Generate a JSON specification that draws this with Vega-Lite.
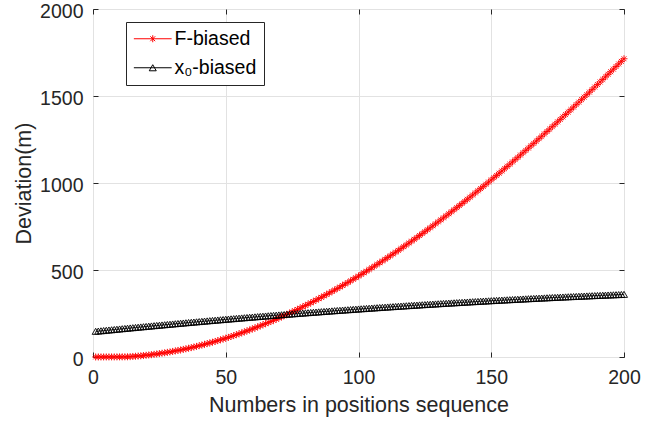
{
  "$schema": "https://vega.github.io/schema/vega-lite/v6.json",
  "autosize": "none",
  "width": 531,
  "height": 348,
  "padding": {"left": 93, "top": 9, "right": 41, "bottom": 64},
  "background": "white",
  "config": {
    "font": "Liberation Sans",
    "view": {"stroke": "#262626", "strokeWidth": 1}
  },
  "data": {
    "values": [
      {"n":1,"s":"F-biased","d":0.1},{"n":2,"s":"F-biased","d":0.2},{"n":3,"s":"F-biased","d":0.2},{"n":4,"s":"F-biased","d":0.3},{"n":5,"s":"F-biased","d":0.4},
      {"n":6,"s":"F-biased","d":0.5},{"n":7,"s":"F-biased","d":0.6},{"n":8,"s":"F-biased","d":0.6},{"n":9,"s":"F-biased","d":0.7},{"n":10,"s":"F-biased","d":0.8},
      {"n":11,"s":"F-biased","d":0.9},{"n":12,"s":"F-biased","d":1.0},{"n":13,"s":"F-biased","d":1.2},{"n":14,"s":"F-biased","d":2.1},{"n":15,"s":"F-biased","d":3.1},
      {"n":16,"s":"F-biased","d":4.2},{"n":17,"s":"F-biased","d":5.5},{"n":18,"s":"F-biased","d":6.9},{"n":19,"s":"F-biased","d":8.3},{"n":20,"s":"F-biased","d":9.9},
      {"n":21,"s":"F-biased","d":11.6},{"n":22,"s":"F-biased","d":13.4},{"n":23,"s":"F-biased","d":15.4},{"n":24,"s":"F-biased","d":17.4},{"n":25,"s":"F-biased","d":19.6},
      {"n":26,"s":"F-biased","d":21.8},{"n":27,"s":"F-biased","d":24.2},{"n":28,"s":"F-biased","d":26.7},{"n":29,"s":"F-biased","d":29.3},{"n":30,"s":"F-biased","d":32.0},
      {"n":31,"s":"F-biased","d":34.8},{"n":32,"s":"F-biased","d":37.7},{"n":33,"s":"F-biased","d":40.7},{"n":34,"s":"F-biased","d":43.8},{"n":35,"s":"F-biased","d":47.0},
      {"n":36,"s":"F-biased","d":50.4},{"n":37,"s":"F-biased","d":53.8},{"n":38,"s":"F-biased","d":57.4},{"n":39,"s":"F-biased","d":61.0},{"n":40,"s":"F-biased","d":64.8},
      {"n":41,"s":"F-biased","d":68.7},{"n":42,"s":"F-biased","d":72.6},{"n":43,"s":"F-biased","d":76.7},{"n":44,"s":"F-biased","d":80.9},{"n":45,"s":"F-biased","d":85.1},
      {"n":46,"s":"F-biased","d":89.5},{"n":47,"s":"F-biased","d":94.0},{"n":48,"s":"F-biased","d":98.6},{"n":49,"s":"F-biased","d":103.2},{"n":50,"s":"F-biased","d":108.0},
      {"n":51,"s":"F-biased","d":112.9},{"n":52,"s":"F-biased","d":117.9},{"n":53,"s":"F-biased","d":122.9},{"n":54,"s":"F-biased","d":128.1},{"n":55,"s":"F-biased","d":133.4},
      {"n":56,"s":"F-biased","d":138.7},{"n":57,"s":"F-biased","d":144.2},{"n":58,"s":"F-biased","d":149.8},{"n":59,"s":"F-biased","d":155.4},{"n":60,"s":"F-biased","d":161.2},
      {"n":61,"s":"F-biased","d":167.0},{"n":62,"s":"F-biased","d":173.0},{"n":63,"s":"F-biased","d":179.0},{"n":64,"s":"F-biased","d":185.2},{"n":65,"s":"F-biased","d":191.4},
      {"n":66,"s":"F-biased","d":197.7},{"n":67,"s":"F-biased","d":204.1},{"n":68,"s":"F-biased","d":210.6},{"n":69,"s":"F-biased","d":217.2},{"n":70,"s":"F-biased","d":223.9},
      {"n":71,"s":"F-biased","d":230.7},{"n":72,"s":"F-biased","d":237.5},{"n":73,"s":"F-biased","d":244.5},{"n":74,"s":"F-biased","d":251.6},{"n":75,"s":"F-biased","d":258.7},
      {"n":76,"s":"F-biased","d":265.9},{"n":77,"s":"F-biased","d":273.2},{"n":78,"s":"F-biased","d":280.6},{"n":79,"s":"F-biased","d":288.1},{"n":80,"s":"F-biased","d":295.7},
      {"n":81,"s":"F-biased","d":303.4},{"n":82,"s":"F-biased","d":311.1},{"n":83,"s":"F-biased","d":319.0},{"n":84,"s":"F-biased","d":326.9},{"n":85,"s":"F-biased","d":334.9},
      {"n":86,"s":"F-biased","d":343.0},{"n":87,"s":"F-biased","d":351.2},{"n":88,"s":"F-biased","d":359.5},{"n":89,"s":"F-biased","d":367.8},{"n":90,"s":"F-biased","d":376.2},
      {"n":91,"s":"F-biased","d":384.7},{"n":92,"s":"F-biased","d":393.3},{"n":93,"s":"F-biased","d":402.0},{"n":94,"s":"F-biased","d":410.8},{"n":95,"s":"F-biased","d":419.6},
      {"n":96,"s":"F-biased","d":428.5},{"n":97,"s":"F-biased","d":437.5},{"n":98,"s":"F-biased","d":446.6},{"n":99,"s":"F-biased","d":455.8},{"n":100,"s":"F-biased","d":465.0},
      {"n":101,"s":"F-biased","d":474.3},{"n":102,"s":"F-biased","d":483.7},{"n":103,"s":"F-biased","d":493.2},{"n":104,"s":"F-biased","d":502.7},{"n":105,"s":"F-biased","d":512.4},
      {"n":106,"s":"F-biased","d":522.1},{"n":107,"s":"F-biased","d":531.8},{"n":108,"s":"F-biased","d":541.7},{"n":109,"s":"F-biased","d":551.6},{"n":110,"s":"F-biased","d":561.6},
      {"n":111,"s":"F-biased","d":571.7},{"n":112,"s":"F-biased","d":581.9},{"n":113,"s":"F-biased","d":592.1},{"n":114,"s":"F-biased","d":602.4},{"n":115,"s":"F-biased","d":612.7},
      {"n":116,"s":"F-biased","d":623.2},{"n":117,"s":"F-biased","d":633.7},{"n":118,"s":"F-biased","d":644.3},{"n":119,"s":"F-biased","d":654.9},{"n":120,"s":"F-biased","d":665.7},
      {"n":121,"s":"F-biased","d":676.5},{"n":122,"s":"F-biased","d":687.3},{"n":123,"s":"F-biased","d":698.3},{"n":124,"s":"F-biased","d":709.2},{"n":125,"s":"F-biased","d":720.3},
      {"n":126,"s":"F-biased","d":731.5},{"n":127,"s":"F-biased","d":742.7},{"n":128,"s":"F-biased","d":753.9},{"n":129,"s":"F-biased","d":765.3},{"n":130,"s":"F-biased","d":776.7},
      {"n":131,"s":"F-biased","d":788.2},{"n":132,"s":"F-biased","d":799.7},{"n":133,"s":"F-biased","d":811.3},{"n":134,"s":"F-biased","d":823.0},{"n":135,"s":"F-biased","d":834.7},
      {"n":136,"s":"F-biased","d":846.5},{"n":137,"s":"F-biased","d":858.3},{"n":138,"s":"F-biased","d":870.2},{"n":139,"s":"F-biased","d":882.2},{"n":140,"s":"F-biased","d":894.3},
      {"n":141,"s":"F-biased","d":906.4},{"n":142,"s":"F-biased","d":918.5},{"n":143,"s":"F-biased","d":930.8},{"n":144,"s":"F-biased","d":943.1},{"n":145,"s":"F-biased","d":955.4},
      {"n":146,"s":"F-biased","d":967.8},{"n":147,"s":"F-biased","d":980.3},{"n":148,"s":"F-biased","d":992.8},{"n":149,"s":"F-biased","d":1005.4},{"n":150,"s":"F-biased","d":1018.0},
      {"n":151,"s":"F-biased","d":1030.7},{"n":152,"s":"F-biased","d":1043.5},{"n":153,"s":"F-biased","d":1056.3},{"n":154,"s":"F-biased","d":1069.1},{"n":155,"s":"F-biased","d":1082.0},
      {"n":156,"s":"F-biased","d":1095.0},{"n":157,"s":"F-biased","d":1108.0},{"n":158,"s":"F-biased","d":1121.1},{"n":159,"s":"F-biased","d":1134.3},{"n":160,"s":"F-biased","d":1147.5},
      {"n":161,"s":"F-biased","d":1160.7},{"n":162,"s":"F-biased","d":1174.0},{"n":163,"s":"F-biased","d":1187.4},{"n":164,"s":"F-biased","d":1200.7},{"n":165,"s":"F-biased","d":1214.2},
      {"n":166,"s":"F-biased","d":1227.7},{"n":167,"s":"F-biased","d":1241.3},{"n":168,"s":"F-biased","d":1254.9},{"n":169,"s":"F-biased","d":1268.5},{"n":170,"s":"F-biased","d":1282.2},
      {"n":171,"s":"F-biased","d":1296.0},{"n":172,"s":"F-biased","d":1309.8},{"n":173,"s":"F-biased","d":1323.6},{"n":174,"s":"F-biased","d":1337.5},{"n":175,"s":"F-biased","d":1351.4},
      {"n":176,"s":"F-biased","d":1365.4},{"n":177,"s":"F-biased","d":1379.5},{"n":178,"s":"F-biased","d":1393.5},{"n":179,"s":"F-biased","d":1407.7},{"n":180,"s":"F-biased","d":1421.8},
      {"n":181,"s":"F-biased","d":1436.1},{"n":182,"s":"F-biased","d":1450.3},{"n":183,"s":"F-biased","d":1464.6},{"n":184,"s":"F-biased","d":1479.0},{"n":185,"s":"F-biased","d":1493.3},
      {"n":186,"s":"F-biased","d":1507.8},{"n":187,"s":"F-biased","d":1522.3},{"n":188,"s":"F-biased","d":1536.8},{"n":189,"s":"F-biased","d":1551.3},{"n":190,"s":"F-biased","d":1565.9},
      {"n":191,"s":"F-biased","d":1580.5},{"n":192,"s":"F-biased","d":1595.2},{"n":193,"s":"F-biased","d":1609.9},{"n":194,"s":"F-biased","d":1624.7},{"n":195,"s":"F-biased","d":1639.5},
      {"n":196,"s":"F-biased","d":1654.3},{"n":197,"s":"F-biased","d":1669.2},{"n":198,"s":"F-biased","d":1684.1},{"n":199,"s":"F-biased","d":1699.0},{"n":200,"s":"F-biased","d":1714.0},
      {"n":1,"s":"x₀-biased","d":147.5},{"n":2,"s":"x₀-biased","d":149.1},{"n":3,"s":"x₀-biased","d":150.6},{"n":4,"s":"x₀-biased","d":152.1},{"n":5,"s":"x₀-biased","d":153.6},
      {"n":6,"s":"x₀-biased","d":155.1},{"n":7,"s":"x₀-biased","d":156.6},{"n":8,"s":"x₀-biased","d":158.1},{"n":9,"s":"x₀-biased","d":159.6},{"n":10,"s":"x₀-biased","d":161.1},
      {"n":11,"s":"x₀-biased","d":162.6},{"n":12,"s":"x₀-biased","d":164.0},{"n":13,"s":"x₀-biased","d":165.5},{"n":14,"s":"x₀-biased","d":167.0},{"n":15,"s":"x₀-biased","d":168.4},
      {"n":16,"s":"x₀-biased","d":169.9},{"n":17,"s":"x₀-biased","d":171.3},{"n":18,"s":"x₀-biased","d":172.8},{"n":19,"s":"x₀-biased","d":174.2},{"n":20,"s":"x₀-biased","d":175.7},
      {"n":21,"s":"x₀-biased","d":177.1},{"n":22,"s":"x₀-biased","d":178.5},{"n":23,"s":"x₀-biased","d":180.0},{"n":24,"s":"x₀-biased","d":181.4},{"n":25,"s":"x₀-biased","d":182.8},
      {"n":26,"s":"x₀-biased","d":184.2},{"n":27,"s":"x₀-biased","d":185.6},{"n":28,"s":"x₀-biased","d":187.0},{"n":29,"s":"x₀-biased","d":188.4},{"n":30,"s":"x₀-biased","d":189.8},
      {"n":31,"s":"x₀-biased","d":191.2},{"n":32,"s":"x₀-biased","d":192.6},{"n":33,"s":"x₀-biased","d":194.0},{"n":34,"s":"x₀-biased","d":195.4},{"n":35,"s":"x₀-biased","d":196.7},
      {"n":36,"s":"x₀-biased","d":198.1},{"n":37,"s":"x₀-biased","d":199.5},{"n":38,"s":"x₀-biased","d":200.8},{"n":39,"s":"x₀-biased","d":202.2},{"n":40,"s":"x₀-biased","d":203.5},
      {"n":41,"s":"x₀-biased","d":204.9},{"n":42,"s":"x₀-biased","d":206.2},{"n":43,"s":"x₀-biased","d":207.5},{"n":44,"s":"x₀-biased","d":208.9},{"n":45,"s":"x₀-biased","d":210.2},
      {"n":46,"s":"x₀-biased","d":211.5},{"n":47,"s":"x₀-biased","d":212.8},{"n":48,"s":"x₀-biased","d":214.1},{"n":49,"s":"x₀-biased","d":215.4},{"n":50,"s":"x₀-biased","d":216.8},
      {"n":51,"s":"x₀-biased","d":218.0},{"n":52,"s":"x₀-biased","d":219.3},{"n":53,"s":"x₀-biased","d":220.6},{"n":54,"s":"x₀-biased","d":221.9},{"n":55,"s":"x₀-biased","d":223.2},
      {"n":56,"s":"x₀-biased","d":224.5},{"n":57,"s":"x₀-biased","d":225.7},{"n":58,"s":"x₀-biased","d":227.0},{"n":59,"s":"x₀-biased","d":228.3},{"n":60,"s":"x₀-biased","d":229.5},
      {"n":61,"s":"x₀-biased","d":230.8},{"n":62,"s":"x₀-biased","d":232.0},{"n":63,"s":"x₀-biased","d":233.3},{"n":64,"s":"x₀-biased","d":234.5},{"n":65,"s":"x₀-biased","d":235.7},
      {"n":66,"s":"x₀-biased","d":237.0},{"n":67,"s":"x₀-biased","d":238.2},{"n":68,"s":"x₀-biased","d":239.4},{"n":69,"s":"x₀-biased","d":240.6},{"n":70,"s":"x₀-biased","d":241.8},
      {"n":71,"s":"x₀-biased","d":243.0},{"n":72,"s":"x₀-biased","d":244.2},{"n":73,"s":"x₀-biased","d":245.4},{"n":74,"s":"x₀-biased","d":246.6},{"n":75,"s":"x₀-biased","d":247.8},
      {"n":76,"s":"x₀-biased","d":249.0},{"n":77,"s":"x₀-biased","d":250.2},{"n":78,"s":"x₀-biased","d":251.3},{"n":79,"s":"x₀-biased","d":252.5},{"n":80,"s":"x₀-biased","d":253.7},
      {"n":81,"s":"x₀-biased","d":254.8},{"n":82,"s":"x₀-biased","d":256.0},{"n":83,"s":"x₀-biased","d":257.1},{"n":84,"s":"x₀-biased","d":258.3},{"n":85,"s":"x₀-biased","d":259.4},
      {"n":86,"s":"x₀-biased","d":260.6},{"n":87,"s":"x₀-biased","d":261.7},{"n":88,"s":"x₀-biased","d":262.8},{"n":89,"s":"x₀-biased","d":264.0},{"n":90,"s":"x₀-biased","d":265.1},
      {"n":91,"s":"x₀-biased","d":266.2},{"n":92,"s":"x₀-biased","d":267.3},{"n":93,"s":"x₀-biased","d":268.4},{"n":94,"s":"x₀-biased","d":269.5},{"n":95,"s":"x₀-biased","d":270.6},
      {"n":96,"s":"x₀-biased","d":271.7},{"n":97,"s":"x₀-biased","d":272.8},{"n":98,"s":"x₀-biased","d":273.9},{"n":99,"s":"x₀-biased","d":274.9},{"n":100,"s":"x₀-biased","d":276.0},
      {"n":101,"s":"x₀-biased","d":277.1},{"n":102,"s":"x₀-biased","d":278.1},{"n":103,"s":"x₀-biased","d":279.2},{"n":104,"s":"x₀-biased","d":280.2},{"n":105,"s":"x₀-biased","d":281.3},
      {"n":106,"s":"x₀-biased","d":282.3},{"n":107,"s":"x₀-biased","d":283.4},{"n":108,"s":"x₀-biased","d":284.4},{"n":109,"s":"x₀-biased","d":285.4},{"n":110,"s":"x₀-biased","d":286.5},
      {"n":111,"s":"x₀-biased","d":287.5},{"n":112,"s":"x₀-biased","d":288.5},{"n":113,"s":"x₀-biased","d":289.5},{"n":114,"s":"x₀-biased","d":290.5},{"n":115,"s":"x₀-biased","d":291.5},
      {"n":116,"s":"x₀-biased","d":292.5},{"n":117,"s":"x₀-biased","d":293.5},{"n":118,"s":"x₀-biased","d":294.5},{"n":119,"s":"x₀-biased","d":295.5},{"n":120,"s":"x₀-biased","d":296.5},
      {"n":121,"s":"x₀-biased","d":297.5},{"n":122,"s":"x₀-biased","d":298.4},{"n":123,"s":"x₀-biased","d":299.4},{"n":124,"s":"x₀-biased","d":300.4},{"n":125,"s":"x₀-biased","d":301.3},
      {"n":126,"s":"x₀-biased","d":302.3},{"n":127,"s":"x₀-biased","d":303.2},{"n":128,"s":"x₀-biased","d":304.2},{"n":129,"s":"x₀-biased","d":305.1},{"n":130,"s":"x₀-biased","d":306.0},
      {"n":131,"s":"x₀-biased","d":307.0},{"n":132,"s":"x₀-biased","d":307.9},{"n":133,"s":"x₀-biased","d":308.8},{"n":134,"s":"x₀-biased","d":309.7},{"n":135,"s":"x₀-biased","d":310.6},
      {"n":136,"s":"x₀-biased","d":311.5},{"n":137,"s":"x₀-biased","d":312.4},{"n":138,"s":"x₀-biased","d":313.3},{"n":139,"s":"x₀-biased","d":314.2},{"n":140,"s":"x₀-biased","d":315.1},
      {"n":141,"s":"x₀-biased","d":316.0},{"n":142,"s":"x₀-biased","d":316.9},{"n":143,"s":"x₀-biased","d":317.8},{"n":144,"s":"x₀-biased","d":318.6},{"n":145,"s":"x₀-biased","d":319.5},
      {"n":146,"s":"x₀-biased","d":320.4},{"n":147,"s":"x₀-biased","d":321.2},{"n":148,"s":"x₀-biased","d":322.1},{"n":149,"s":"x₀-biased","d":322.9},{"n":150,"s":"x₀-biased","d":323.8},
      {"n":151,"s":"x₀-biased","d":324.6},{"n":152,"s":"x₀-biased","d":325.4},{"n":153,"s":"x₀-biased","d":326.2},{"n":154,"s":"x₀-biased","d":327.1},{"n":155,"s":"x₀-biased","d":327.9},
      {"n":156,"s":"x₀-biased","d":328.7},{"n":157,"s":"x₀-biased","d":329.5},{"n":158,"s":"x₀-biased","d":330.3},{"n":159,"s":"x₀-biased","d":331.1},{"n":160,"s":"x₀-biased","d":331.9},
      {"n":161,"s":"x₀-biased","d":332.7},{"n":162,"s":"x₀-biased","d":333.5},{"n":163,"s":"x₀-biased","d":334.3},{"n":164,"s":"x₀-biased","d":335.1},{"n":165,"s":"x₀-biased","d":335.8},
      {"n":166,"s":"x₀-biased","d":336.6},{"n":167,"s":"x₀-biased","d":337.4},{"n":168,"s":"x₀-biased","d":338.1},{"n":169,"s":"x₀-biased","d":338.9},{"n":170,"s":"x₀-biased","d":339.6},
      {"n":171,"s":"x₀-biased","d":340.4},{"n":172,"s":"x₀-biased","d":341.1},{"n":173,"s":"x₀-biased","d":341.9},{"n":174,"s":"x₀-biased","d":342.6},{"n":175,"s":"x₀-biased","d":343.3},
      {"n":176,"s":"x₀-biased","d":344.0},{"n":177,"s":"x₀-biased","d":344.8},{"n":178,"s":"x₀-biased","d":345.5},{"n":179,"s":"x₀-biased","d":346.2},{"n":180,"s":"x₀-biased","d":346.9},
      {"n":181,"s":"x₀-biased","d":347.6},{"n":182,"s":"x₀-biased","d":348.3},{"n":183,"s":"x₀-biased","d":349.0},{"n":184,"s":"x₀-biased","d":349.7},{"n":185,"s":"x₀-biased","d":350.3},
      {"n":186,"s":"x₀-biased","d":351.0},{"n":187,"s":"x₀-biased","d":351.7},{"n":188,"s":"x₀-biased","d":352.4},{"n":189,"s":"x₀-biased","d":353.0},{"n":190,"s":"x₀-biased","d":353.7},
      {"n":191,"s":"x₀-biased","d":354.3},{"n":192,"s":"x₀-biased","d":355.0},{"n":193,"s":"x₀-biased","d":355.6},{"n":194,"s":"x₀-biased","d":356.3},{"n":195,"s":"x₀-biased","d":356.9},
      {"n":196,"s":"x₀-biased","d":357.5},{"n":197,"s":"x₀-biased","d":358.2},{"n":198,"s":"x₀-biased","d":358.8},{"n":199,"s":"x₀-biased","d":359.4},{"n":200,"s":"x₀-biased","d":360.0}
    ]
  },
  "encoding": {
    "x": {
      "field": "n", "type": "quantitative",
      "scale": {"domain": [0, 200], "nice": false, "zero": false},
      "axis": {
        "orient": "bottom", "values": [0, 50, 100, 150, 200], "format": "d",
        "grid": true, "gridColor": "#e2e2e2", "gridWidth": 1,
        "domain": false, "tickSize": -5, "tickColor": "#262626",
        "labelPadding": 16, "labelFontSize": 19.5, "labelColor": "#262626",
        "labelFlush": false, "labelOverlap": false,
        "title": "Numbers in positions sequence", "titleFontSize": 21.5,
        "titleFontWeight": "normal", "titleColor": "#262626", "titlePadding": 8
      }
    },
    "y": {
      "field": "d", "type": "quantitative",
      "scale": {"domain": [0, 2000], "nice": false},
      "axis": {
        "orient": "left", "values": [0, 500, 1000, 1500, 2000], "format": "d",
        "grid": true, "gridColor": "#e2e2e2", "gridWidth": 1,
        "domain": false, "tickSize": -5, "tickColor": "#262626",
        "labelPadding": 15, "labelOffset": 2.5, "labelFontSize": 19.5, "labelColor": "#262626",
        "labelFlush": false, "labelOverlap": false,
        "title": "Deviation(m)", "titleFontSize": 21.5,
        "titleFontWeight": "normal", "titleColor": "#262626", "titlePadding": 4
      }
    },
    "color": {
      "field": "s", "type": "nominal",
      "scale": {"domain": ["F-biased", "x₀-biased"], "range": ["#ff0000", "#000000"]},
      "legend": {
        "orient": "none", "legendX": 33, "legendY": 13,
        "title": null, "direction": "vertical",
        "padding": 7, "strokeColor": "#262626", "fillColor": "white",
        "labelFontSize": 19.5, "labelColor": "#000000", "labelFont": "Liberation Sans",
        "symbolSize": 49, "symbolOffset": 10, "labelOffset": 12, "rowPadding": 8,
        "encode": {
          "symbols": {
            "update": {
              "shape": {"signal": "datum.value === 'F-biased' ? 'M-5.4,0L5.4,0M0,-1L0,1M-0.7,-0.7L0.7,0.7M-0.7,0.7L0.7,-0.7' : 'M-5.4,0L5.4,0M0,-0.87L-1,0.87L1,0.87Z'"},
              "fill": {"value": "transparent"},
              "size": {"value": 49},
              "strokeWidth": {"value": 1}
            }
          }
        }
      }
    }
  },
  "layer": [
    {
      "mark": {"type": "line", "strokeWidth": 0.8}
    },
    {
      "mark": {"type": "point", "filled": false, "size": 49, "strokeWidth": 0.9, "opacity": 1},
      "encoding": {
        "x": {
          "field": "n", "type": "quantitative",
          "scale": {"domain": [0, 200], "nice": false, "zero": false},
          "axis": {"orient": "top", "values": [0, 50, 100, 150, 200], "labels": false, "grid": false, "domain": false, "tickSize": -5, "tickColor": "#262626", "title": null}
        },
        "y": {
          "field": "d", "type": "quantitative",
          "scale": {"domain": [0, 2000], "nice": false},
          "axis": {"orient": "right", "values": [0, 500, 1000, 1500, 2000], "labels": false, "grid": false, "domain": false, "tickSize": -5, "tickColor": "#262626", "title": null}
        },
        "shape": {
          "field": "s", "type": "nominal",
          "scale": {"range": ["M-1,0L1,0M0,-1L0,1M-0.7,-0.7L0.7,0.7M-0.7,0.7L0.7,-0.7", "triangle-up"]},
          "legend": null
        }
      }
    }
  ],
  "resolve": {"axis": {"x": "independent", "y": "independent"}}
}
